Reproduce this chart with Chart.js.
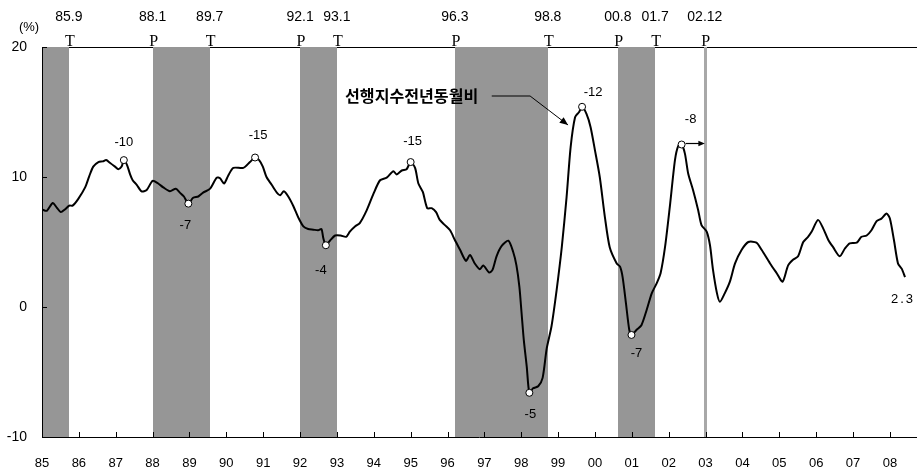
<!DOCTYPE html>
<html>
<head>
<meta charset="utf-8">
<script src="https://cdn.jsdelivr.net/npm/chart.js@4.4.1/dist/chart.umd.min.js"></script>
<style>
  html, body { margin: 0; padding: 0; background: #fff; }
  #wrap { width: 917px; height: 474px; }
</style>
</head>
<body>
<div id="wrap"><canvas id="chart" width="917" height="474"></canvas></div>
<script>
// ── Data (decimal years, 00 = 100) ───────────
const dates = [
  85.00, 85.13, 85.29, 85.40, 85.51, 85.62, 85.74, 85.83, 85.98, 86.17,
  86.28, 86.39, 86.53, 86.65, 86.74, 86.84, 86.98, 87.07, 87.16, 87.22,
  87.31, 87.39, 87.46, 87.57, 87.70, 87.84, 88.00, 88.15, 88.29, 88.47,
  88.63, 88.74, 88.85, 88.97, 89.10, 89.24, 89.37, 89.56, 89.74, 89.83,
  89.94, 90.05, 90.19, 90.46, 90.64, 90.78, 90.89, 90.99, 91.09, 91.23,
  91.37, 91.46, 91.56, 91.68, 91.82, 91.95, 92.09, 92.22, 92.36, 92.49,
  92.58, 92.63, 92.70, 92.81, 92.95, 93.10, 93.25, 93.35, 93.49, 93.62,
  93.81, 93.99, 94.17, 94.35, 94.53, 94.62, 94.76, 94.89, 95.00, 95.12,
  95.21, 95.33, 95.45, 95.57, 95.69, 95.79, 95.93, 96.07, 96.20, 96.34,
  96.50, 96.61, 96.74, 96.88, 96.97, 97.13, 97.22, 97.33, 97.47, 97.65,
  97.78, 97.87, 97.95, 98.01, 98.07, 98.15, 98.22, 98.32, 98.46, 98.58,
  98.69, 98.82, 98.96, 99.10, 99.23, 99.34, 99.46, 99.57, 99.65, 99.77,
  99.88, 100.00, 100.13, 100.27, 100.40, 100.59, 100.68, 100.75, 100.84, 100.93,
  100.99, 101.13, 101.26, 101.40, 101.54, 101.67, 101.78, 101.90, 102.03, 102.17,
  102.26, 102.35, 102.44, 102.53, 102.66, 102.80, 102.89, 103.03, 103.12, 103.20,
  103.31, 103.39, 103.52, 103.66, 103.80, 103.98, 104.16, 104.38, 104.52, 104.75,
  104.93, 105.09, 105.24, 105.38, 105.51, 105.65, 105.78, 105.88, 106.05, 106.19,
  106.33, 106.46, 106.64, 106.78, 106.91, 107.10, 107.23, 107.37, 107.50, 107.64,
  107.77, 107.91, 108.00, 108.11, 108.22, 108.32, 108.41
];
const values = [
  7.5, 7.4, 8.0, 7.65, 7.3, 7.5, 7.8, 7.8, 8.3, 9.2,
  10.05, 10.8, 11.15, 11.2, 11.3, 11.1, 10.8, 10.6, 10.8, 11.3,
  10.9, 10.2, 9.75, 9.4, 8.9, 9.0, 9.7, 9.5, 9.2, 8.9,
  9.1, 8.8, 8.5, 7.95, 8.4, 8.5, 8.8, 9.1, 9.95, 9.9,
  9.5, 10.1, 10.7, 10.7, 11.15, 11.5, 11.3, 10.8, 10.0, 9.4,
  8.8, 8.6, 8.9, 8.5, 7.75, 6.9, 6.2, 6.0, 5.95, 5.9,
  6.0, 5.3, 4.75, 5.1, 5.5, 5.5, 5.4, 5.8, 6.2, 6.45,
  7.45, 8.7, 9.75, 9.95, 10.45, 10.2, 10.5, 10.6, 11.15, 10.7,
  9.5, 8.85, 7.6, 7.6, 7.3, 6.7, 6.3, 5.9, 5.15, 4.4,
  3.55, 4.0, 3.35, 2.9, 3.2, 2.65, 2.85, 3.9, 4.7, 5.1,
  4.25, 3.2, 1.55, -0.5, -2.55, -4.6, -6.6, -6.25, -6.1, -5.45,
  -3.2, -1.5, 1.3, 4.6, 8.45, 12.3, 14.6, 15.0, 15.4, 14.85,
  13.85, 12.05, 10.0, 6.9, 4.6, 3.35, 3.1, 2.3, 0.3, -1.75,
  -2.15, -1.75, -1.4, -0.25, 1.05, 1.8, 2.6, 4.6, 7.7, 11.3,
  12.4, 12.5, 11.8, 10.25, 9.0, 7.45, 6.3, 5.8, 4.75, 2.9,
  1.05, 0.4, 1.05, 1.95, 3.35, 4.4, 5.0, 4.95, 4.4, 3.35,
  2.6, 1.95, 3.2, 3.65, 3.9, 5.0, 5.4, 5.8, 6.7, 6.05,
  5.15, 4.6, 3.9, 4.5, 4.9, 4.95, 5.4, 5.5, 5.9, 6.6,
  6.8, 7.2, 6.8, 5.15, 3.35, 2.95, 2.3
];

// turning points of the leading index (marked with circles)
const peakDates  = [87.22, 88.97, 90.78, 92.70, 95.00, 98.22, 99.65, 100.99, 102.35];
const peakValues = [11.3, 7.95, 11.5, 4.75, 11.15, -6.6, 15.4, -2.15, 12.5];
const peakLabels = ['-10', '-7', '-15', '-4', '-15', '-5', '-12', '-7', '-8'];

// business cycle reference dates (P = peak, T = trough)
const turnDates  = [85.73, 88.0, 89.55, 92.0, 93.0, 96.2, 98.72, 100.62, 101.63, 102.98];
const turnLabels = ['85.9', '88.1', '89.7', '92.1', '93.1', '96.3', '98.8', '00.8', '01.7', '02.12'];
const turnTypes  = ['T', 'P', 'T', 'P', 'T', 'P', 'T', 'P', 'T', 'P'];

const yearTicks  = [85, 86, 87, 88, 89, 90, 91, 92, 93, 94, 95, 96, 97, 98, 99, 100, 101, 102, 103, 104, 105, 106, 107, 108];
const yearLabels = ['85', '86', '87', '88', '89', '90', '91', '92', '93', '94', '95', '96', '97', '98', '99', '00', '01', '02', '03', '04', '05', '06', '07', '08'];
const yTicks = [-10, 0, 10, 20];

const seriesName = '선행지수전년동월비';
const lastLabel = '2.3';

// ── Styles ───────────────────────────────────
const SANS = '"Liberation Sans", Arial, sans-serif';
const SERIF = '"Liberation Serif", "Times New Roman", serif';
const BAND = '#969696';
// label offsets from each circle, in pixels
const peakOffsets = [[0, -18], [-3, 22], [3, -22], [-5, 25], [2, -21], [1, 22], [11, -14], [5, 18], [9, -25]];

function arrowHead(ctx, x1, y1, x2, y2, size) {
  const a = Math.atan2(y2 - y1, x2 - x1);
  ctx.beginPath();
  ctx.moveTo(x2, y2);
  ctx.lineTo(x2 - size * Math.cos(a - 0.4), y2 - size * Math.sin(a - 0.4));
  ctx.lineTo(x2 - size * Math.cos(a + 0.4), y2 - size * Math.sin(a + 0.4));
  ctx.closePath();
  ctx.fill();
}

// ── Background bands, frame, cycle dates ─────
const decor = {
  id: 'decor',
  beforeDatasetsDraw(chart) {
    const { ctx, chartArea: { left, top, bottom }, scales: { x, y } } = chart;
    const right = chart.width;
    ctx.save();

    // top frame line
    ctx.strokeStyle = '#000';
    ctx.lineWidth = 1;
    ctx.beginPath();
    ctx.moveTo(left, top + 0.5);
    ctx.lineTo(right, top + 0.5);
    ctx.stroke();

    // recession bands: P -> T
    ctx.fillStyle = BAND;
    let start = x.min;
    turnDates.forEach((d, i) => {
      if (turnTypes[i] === 'P') {
        start = d;
      } else if (start !== null) {
        const x1 = Math.max(Math.round(x.getPixelForValue(start)), left + 1);
        const x2 = Math.round(x.getPixelForValue(d));
        ctx.fillRect(x1, top, x2 - x1, bottom - top);
        start = null;
      }
    });
    if (start !== null) {
      // open peak (no trough yet): thin line only
      ctx.fillStyle = '#a8a8a8';
      const xp = Math.round(x.getPixelForValue(start));
      ctx.fillRect(xp - 1, top, 3, bottom - top);
    }

    // axes
    ctx.strokeStyle = '#000';
    ctx.lineWidth = 1;
    ctx.beginPath();
    ctx.moveTo(left + 0.5, top);
    ctx.lineTo(left + 0.5, bottom);
    ctx.moveTo(left, bottom + 0.5);
    ctx.lineTo(right, bottom + 0.5);
    yearTicks.forEach(v => {
      const px = Math.round(x.getPixelForValue(v)) + 0.5;
      ctx.moveTo(px, bottom);
      ctx.lineTo(px, bottom - 5);
    });
    yTicks.forEach(v => {
      const py = Math.round(y.getPixelForValue(v)) + 0.5;
      ctx.moveTo(left, py);
      ctx.lineTo(left + 5, py);
    });
    ctx.stroke();

    // cycle dates above the plot
    ctx.fillStyle = '#000';
    ctx.textAlign = 'center';
    turnDates.forEach((d, i) => {
      const px = x.getPixelForValue(d);
      ctx.font = '14px ' + SANS;
      ctx.textBaseline = 'middle';
      ctx.fillText(turnLabels[i], px, 17);
      ctx.font = '16px ' + SERIF;
      ctx.textBaseline = 'alphabetic';
      ctx.fillText(turnTypes[i], px + 1, top - 1);
    });

    // unit
    ctx.font = '13px ' + SANS;
    ctx.textBaseline = 'middle';
    ctx.fillText('(%)', 29, 27);
    ctx.restore();
  },
  afterDatasetsDraw(chart) {
    const { ctx, scales: { x, y } } = chart;
    ctx.save();
    ctx.fillStyle = '#000';
    ctx.strokeStyle = '#000';

    // circle labels
    ctx.font = '13px ' + SANS;
    ctx.textAlign = 'center';
    ctx.textBaseline = 'middle';
    peakDates.forEach((d, i) => {
      const px = x.getPixelForValue(d) + peakOffsets[i][0];
      const py = y.getPixelForValue(peakValues[i]) + peakOffsets[i][1];
      ctx.fillText(peakLabels[i], px, py);
    });

    // last value
    const lx = x.getPixelForValue(dates[dates.length - 1]);
    const ly = y.getPixelForValue(values[values.length - 1]);
    ctx.font = '13px ' + SANS;
    ctx.letterSpacing = '2px';
    ctx.fillText(lastLabel, lx - 2, ly + 22);
    ctx.letterSpacing = '0px';

    // series name with pointer to the 99 peak
    const tx = x.getPixelForValue(93.22);
    const ty = y.getPixelForValue(16.23);
    ctx.font = 'bold 15px "Noto Sans CJK KR", sans-serif';
    const fs = 15 * 133 / ctx.measureText(seriesName).width;
    ctx.font = 'bold ' + fs.toFixed(1) + 'px "Noto Sans CJK KR", sans-serif';
    ctx.textAlign = 'left';
    ctx.fillText(seriesName, tx, ty);
    const ax1 = x.getPixelForValue(97.2), ax2 = x.getPixelForValue(98.24), ax3 = x.getPixelForValue(99.27);
    const ay3 = y.getPixelForValue(14.0);
    ctx.lineWidth = 1;
    ctx.beginPath();
    ctx.moveTo(ax1, ty);
    ctx.lineTo(ax2, ty);
    ctx.lineTo(ax3, ay3);
    ctx.stroke();
    arrowHead(ctx, ax2, ty, ax3, ay3, 9);

    // arrow from the last circle ("-8") pointing right
    const last = peakDates.length - 1;
    const bx1 = x.getPixelForValue(peakDates[last]) + 4;
    const bx2 = x.getPixelForValue(102.98);
    const by = y.getPixelForValue(peakValues[last]) - 1;
    ctx.lineWidth = 1.2;
    ctx.beginPath();
    ctx.moveTo(bx1, by);
    ctx.lineTo(bx2 - 4, by);
    ctx.stroke();
    arrowHead(ctx, bx1, by, bx2, by, 7);
    ctx.restore();
  }
};

// ── Chart ────────────────────────────────────
const ctx = document.getElementById('chart').getContext('2d');
new Chart(ctx, {
  type: 'scatter',
  data: {
    datasets: [
      {
        data: peakDates.map((d, i) => ({ x: d, y: peakValues[i] })),
        pointRadius: 3.5,
        pointBackgroundColor: '#fff',
        pointBorderColor: '#000',
        pointBorderWidth: 1,
        order: 0
      },
      {
        data: dates.map((d, i) => ({ x: d, y: values[i] })),
        showLine: true,
        borderColor: '#000',
        borderWidth: 2,
        pointRadius: 0,
        tension: 0.25,
        order: 1
      }
    ]
  },
  options: {
    responsive: false,
    animation: false,
    events: [],
    layout: { padding: { top: 47, right: 1, left: 0, bottom: 0 } },
    plugins: { legend: { display: false }, tooltip: { enabled: false } },
    scales: {
      x: {
        type: 'linear',
        min: 85,
        max: 108.6,
        grid: { display: false, drawTicks: false },
        border: { display: false },
        afterBuildTicks: s => { s.ticks = yearTicks.map(v => ({ value: v })); },
        afterFit: s => { s.height = 37; },
        ticks: {
          autoSkip: false,
          maxRotation: 0,
          padding: 19,
          color: '#000',
          font: { family: SANS, size: 13 },
          callback: (v, i) => yearLabels[i]
        }
      },
      y: {
        min: -10,
        max: 20,
        grid: { display: false, drawTicks: false },
        border: { display: false },
        afterBuildTicks: s => { s.ticks = yTicks.map(v => ({ value: v })); },
        afterFit: s => { s.width = 42; },
        ticks: {
          padding: 15,
          color: '#000',
          font: { family: SANS, size: 14 }
        }
      }
    }
  },
  plugins: [decor]
});
</script>
</body>
</html>
